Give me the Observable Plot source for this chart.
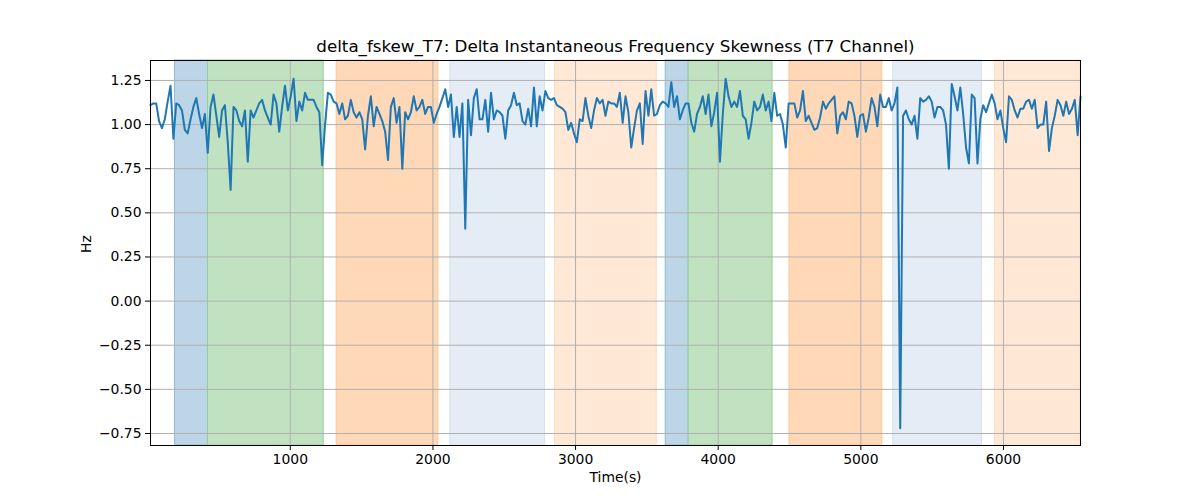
<!DOCTYPE html>
<html>
<head>
<meta charset="utf-8">
<script src="https://cdn.jsdelivr.net/npm/d3@7"></script>
<script src="https://cdn.jsdelivr.net/npm/@observablehq/plot@0.6"></script>
<style>
  body { margin: 0; background: #fff; }
  #chart svg { display: block; }
</style>
</head>
<body>
<div id="chart"></div>
<script>
const title = "delta_fskew_T7: Delta Instantaneous Frequency Skewness (T7 Channel)";
const xLabel = "Time(s)";
const yLabel = "Hz";

const tStart = 20;
const tEnd = 6540;
const values = [
  1.11,1.12,1.12,1.02,0.98,1.03,1.13,1.22,0.92,1.12,
  1.11,1.08,0.97,0.95,1.03,1.10,1.15,1.06,0.98,1.06,
  0.84,1.10,1.17,1.05,0.93,1.08,1.11,0.90,0.63,1.10,
  1.08,1.02,0.99,1.08,0.79,1.08,1.04,1.08,1.12,1.14,
  1.08,1.04,1.00,1.17,1.12,0.96,1.10,1.22,1.08,1.16,
  1.26,1.02,1.13,1.08,1.18,1.14,1.14,1.14,1.10,1.07,
  0.77,1.00,1.18,1.17,1.13,1.12,1.06,1.12,1.03,1.05,
  1.14,1.07,1.04,1.07,1.03,0.86,1.05,1.16,0.99,1.10,
  1.06,1.02,0.96,0.80,1.10,1.15,1.01,1.10,0.75,1.07,
  1.03,1.07,1.16,1.08,1.10,1.14,1.06,1.10,1.10,1.01,
  1.06,1.10,1.15,1.20,1.10,1.17,0.93,1.10,0.93,1.12,
  0.41,1.14,0.94,1.15,1.20,1.03,1.03,1.14,0.96,1.18,
  1.03,1.08,1.07,1.05,0.92,1.08,1.11,1.18,1.11,1.12,
  1.02,1.00,1.09,0.99,1.21,0.99,1.16,1.08,1.19,1.15,
  1.14,1.15,1.11,1.10,1.09,1.07,0.97,1.01,0.95,0.90,
  1.03,1.02,1.15,1.05,0.98,1.08,1.15,1.12,1.14,1.05,
  1.13,1.12,1.12,1.10,1.18,1.01,1.16,1.07,0.87,0.98,
  1.08,1.12,0.89,1.19,1.05,1.20,1.05,1.06,1.11,1.13,
  1.12,1.10,1.24,1.10,1.16,1.03,1.08,1.12,1.12,1.01,
  0.96,1.06,1.10,1.16,1.06,1.17,0.99,1.07,1.18,0.79,
  1.06,1.26,1.16,1.10,1.13,1.10,1.19,1.05,1.03,0.92,
  1.01,1.13,1.08,1.10,1.17,1.08,1.13,1.02,1.18,1.05,
  1.06,1.00,0.87,1.12,1.12,1.12,1.04,1.08,1.19,1.02,
  1.05,1.01,0.97,0.98,1.04,1.13,1.09,1.12,1.14,1.16,
  0.95,1.05,1.07,1.03,1.13,1.12,1.05,0.93,1.05,1.06,
  0.96,1.04,1.15,1.10,0.99,1.17,1.10,1.10,1.15,1.08,
  1.12,1.21,-0.72,1.05,1.08,1.03,1.00,1.05,0.92,1.15,
  1.13,1.14,1.16,1.13,1.04,1.10,1.10,1.08,1.00,0.75,
  1.23,1.16,1.08,1.21,1.06,0.87,0.78,1.17,1.15,0.78,
  1.03,1.11,1.07,1.12,1.17,1.12,1.03,1.08,0.98,0.90,
  1.16,1.14,1.08,1.04,1.09,1.09,1.13,1.14,1.09,1.14,
  0.98,1.00,1.00,1.13,0.85,0.98,1.05,1.14,1.11,1.05,
  1.13,1.06,1.09,1.14,0.94,1.16
];

const spanStarts = [192, 423, 1325, 2122, 2856, 3632, 3793, 4500, 5227, 5940];
const spanEnds   = [423, 1234, 2038, 2786, 3569, 3793, 4381, 5150, 5849, 6540];
const spanKinds  = ["blue","green","orange","lightblue","lightorange","blue","green","orange","lightblue","lightorange"];

const xTicks = [1000, 2000, 3000, 4000, 5000, 6000];
const yTicks = [-0.75, -0.5, -0.25, 0, 0.25, 0.5, 0.75, 1.0, 1.25];

const kindFill = {
  blue: "#bcd6e8",
  green: "#c0e2c0",
  orange: "#ffd9b7",
  lightblue: "#e4ecf6",
  lightorange: "#ffe9d6"
};
const kindEdge = {
  blue: "#8fbad8",
  green: "#95cf95",
  orange: "#ffc590",
  lightblue: "#d5e1f0",
  lightorange: "#ffdcbd"
};

const step = (tEnd - tStart) / (values.length - 1);
const series = values.map((v, i) => ({t: tStart + i * step, v}));
const spans = spanStarts.map((s, i) => ({x1: s, x2: spanEnds[i], kind: spanKinds[i]}));

const fmt = d => {
  const s = d.toFixed(2);
  return d < 0 ? "\u2212" + s.slice(1) : s;
};

const font = "DejaVu Sans, sans-serif";

const chart = Plot.plot({
  width: 1200,
  height: 500,
  marginLeft: 150,
  marginRight: 120,
  marginTop: 60,
  marginBottom: 55,
  style: {fontFamily: font, fontSize: "13.9px", color: "#000", background: "#fff"},
  x: {domain: [tStart, tEnd]},
  y: {domain: [-0.818, 1.363]},
  marks: [
    Plot.rect(spans, {x1: "x1", x2: "x2", fill: d => kindFill[d.kind], stroke: d => kindEdge[d.kind], strokeWidth: 1}),
    Plot.gridX(xTicks, {stroke: "#b0b0b0", strokeOpacity: 1, strokeWidth: 1}),
    Plot.gridY(yTicks, {stroke: "#b0b0b0", strokeOpacity: 1, strokeWidth: 1}),
    Plot.line(series, {x: "t", y: "v", stroke: "#1f77b4", strokeWidth: 2}),
    Plot.frame({stroke: "#000", strokeWidth: 1}),
    Plot.axisX({ticks: xTicks, tickSize: 5, tickPadding: 4, tickFormat: d => String(d), label: null, fontSize: "13.9px"}),
    Plot.axisY({ticks: yTicks, tickSize: 5, tickPadding: 4, tickFormat: fmt, label: null, fontSize: "13.9px"}),
    Plot.text([title], {frameAnchor: "top", dy: -20, fontSize: 16.7, fill: "#000"}),
    Plot.text([xLabel], {frameAnchor: "bottom", dy: 36, fontSize: 13.9, fill: "#000"}),
    Plot.text([yLabel], {frameAnchor: "left", dx: -64, rotate: -90, fontSize: 13.9, fill: "#000"})
  ]
});
document.getElementById("chart").appendChild(chart);
</script>
</body>
</html>
